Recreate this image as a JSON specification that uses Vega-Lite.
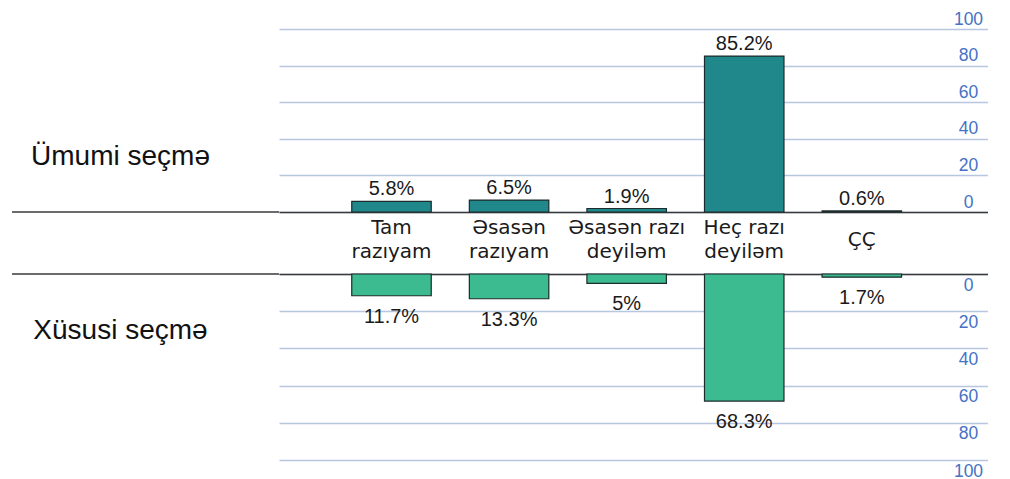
{
  "$schema": "https://vega.github.io/schema/vega-lite/v6.json",
  "padding": {"left": 11, "top": 10, "right": 0, "bottom": 0},
  "config": {"view": {"stroke": null}},
  "datasets": {
    "survey": [
      {"cat": "Tam razıyam", "sample": "Ümumi seçmə", "value": 5.8, "label": "5.8%"},
      {"cat": "Əsasən razıyam", "sample": "Ümumi seçmə", "value": 6.5, "label": "6.5%"},
      {"cat": "Əsasən razı deyiləm", "sample": "Ümumi seçmə", "value": 1.9, "label": "1.9%"},
      {"cat": "Heç razı deyiləm", "sample": "Ümumi seçmə", "value": 85.2, "label": "85.2%"},
      {"cat": "ÇÇ", "sample": "Ümumi seçmə", "value": 0.6, "label": "0.6%"},
      {"cat": "Tam razıyam", "sample": "Xüsusi seçmə", "value": 11.7, "label": "11.7%"},
      {"cat": "Əsasən razıyam", "sample": "Xüsusi seçmə", "value": 13.3, "label": "13.3%"},
      {"cat": "Əsasən razı deyiləm", "sample": "Xüsusi seçmə", "value": 5, "label": "5%"},
      {"cat": "Heç razı deyiləm", "sample": "Xüsusi seçmə", "value": 68.3, "label": "68.3%"},
      {"cat": "ÇÇ", "sample": "Xüsusi seçmə", "value": 1.7, "label": "1.7%"}
    ]
  },
  "bounds": "flush",
  "columns": 2,
  "spacing": {"row": 62, "column": 0},
  "concat": [
    {
      "width": 267,
      "height": 183,
      "data": {"values": [{"sample": "Ümumi seçmə"}]},
      "layer": [
        {
          "mark": {"type": "rule", "color": "#3a3a3a", "strokeWidth": 1.5},
          "encoding": {"y": {"datum": 0, "type": "quantitative", "scale": {"domain": [0, 100], "nice": false}, "axis": null}}
        },
        {
          "mark": {"type": "text", "font": "Liberation Sans", "fontSize": 28, "align": "center", "baseline": "alphabetic", "dx": -25, "color": "#111111"},
          "encoding": {
            "y": {"datum": 25.5, "type": "quantitative", "axis": null},
            "text": {"field": "sample"}
          }
        }
      ]
    },
    {
      "width": 709,
      "height": 183,
      "data": {"name": "survey"},
      "transform": [{"filter": {"field": "sample", "equal": "Ümumi seçmə"}}],
      "encoding": {
        "x": {
          "field": "cat", "type": "nominal", "sort": null,
          "scale": {"paddingInner": 0.324, "paddingOuter": 0.677, "align": 0.457},
          "axis": {
            "orient": "bottom", "title": null, "domain": true, "domainColor": "#3a3a3a", "domainWidth": 1.5,
            "ticks": false, "grid": false,
            "labelAngle": 0, "labelFont": "DejaVu Sans", "labelFontSize": 20, "labelColor": "#1a1a1a",
            "labelPadding": {"condition": {"test": "indexof(datum.label, ' ') < 0", "value": 27}, "value": 15},
            "labelBaseline": "middle", "labelLineHeight": 24, "labelLimit": 300,
            "labelExpr": "lastindexof(datum.label, ' ') > 0 ? [substring(datum.label, 0, lastindexof(datum.label, ' ')), substring(datum.label, lastindexof(datum.label, ' ') + 1)] : datum.label"
          }
        },
        "y": {
          "field": "value", "type": "quantitative", "title": null,
          "scale": {"domain": [0, 100], "nice": false},
          "axis": {
            "orient": "right", "values": [0, 20, 40, 60, 80, 100], "domain": false, "ticks": false,
            "grid": true, "gridColor": "#b8c7e0", "gridWidth": 1.6, "labelFlush": false, "labelOverlap": false,
            "labelFont": "Liberation Sans", "labelFontSize": 17.5, "labelColor": "#4472c4",
            "labelAlign": "center", "labelPadding": -20, "labelBaseline": "alphabetic", "labelOffset": -5
          }
        }
      },
      "layer": [
        {"mark": {"type": "bar", "color": "#20878a", "stroke": "#1c2b2b", "strokeWidth": 1.2}},
        {
          "mark": {"type": "text", "font": "Liberation Sans", "fontSize": 20, "baseline": "alphabetic", "dy": -6, "color": "#1a1a1a"},
          "encoding": {"text": {"field": "label"}}
        }
      ]
    },
    {
      "width": 267,
      "height": 186,
      "data": {"values": [{"sample": "Xüsusi seçmə"}]},
      "layer": [
        {
          "mark": {"type": "rule", "color": "#3a3a3a", "strokeWidth": 1.5},
          "encoding": {"y": {"datum": 0, "type": "quantitative", "scale": {"domain": [0, 100], "nice": false, "reverse": true}, "axis": null}}
        },
        {
          "mark": {"type": "text", "font": "Liberation Sans", "fontSize": 28, "align": "center", "baseline": "alphabetic", "dx": -25, "color": "#111111"},
          "encoding": {
            "y": {"datum": 35, "type": "quantitative", "axis": null},
            "text": {"field": "sample"}
          }
        }
      ]
    },
    {
      "width": 709,
      "height": 186,
      "data": {"name": "survey"},
      "transform": [{"filter": {"field": "sample", "equal": "Xüsusi seçmə"}}],
      "encoding": {
        "x": {
          "field": "cat", "type": "nominal", "sort": null,
          "scale": {"paddingInner": 0.324, "paddingOuter": 0.677, "align": 0.457},
          "axis": {
            "orient": "top", "title": null, "domain": true, "domainColor": "#3a3a3a", "domainWidth": 1.5,
            "ticks": false, "grid": false, "labels": false
          }
        },
        "y": {
          "field": "value", "type": "quantitative", "title": null,
          "scale": {"domain": [0, 100], "nice": false, "reverse": true},
          "axis": {
            "orient": "right", "values": [0, 20, 40, 60, 80, 100], "domain": false, "ticks": false,
            "grid": true, "gridColor": "#b8c7e0", "gridWidth": 1.6, "labelFlush": false, "labelOverlap": false,
            "labelFont": "Liberation Sans", "labelFontSize": 17.5, "labelColor": "#4472c4",
            "labelAlign": "center", "labelPadding": -20, "labelBaseline": "top", "labelOffset": 2
          }
        }
      },
      "layer": [
        {"mark": {"type": "bar", "color": "#3bbb8f", "stroke": "#1c2b2b", "strokeWidth": 1.2}},
        {
          "mark": {"type": "text", "font": "Liberation Sans", "fontSize": 20, "baseline": "top", "dy": 11, "color": "#1a1a1a"},
          "encoding": {"text": {"field": "label"}}
        }
      ]
    }
  ]
}
